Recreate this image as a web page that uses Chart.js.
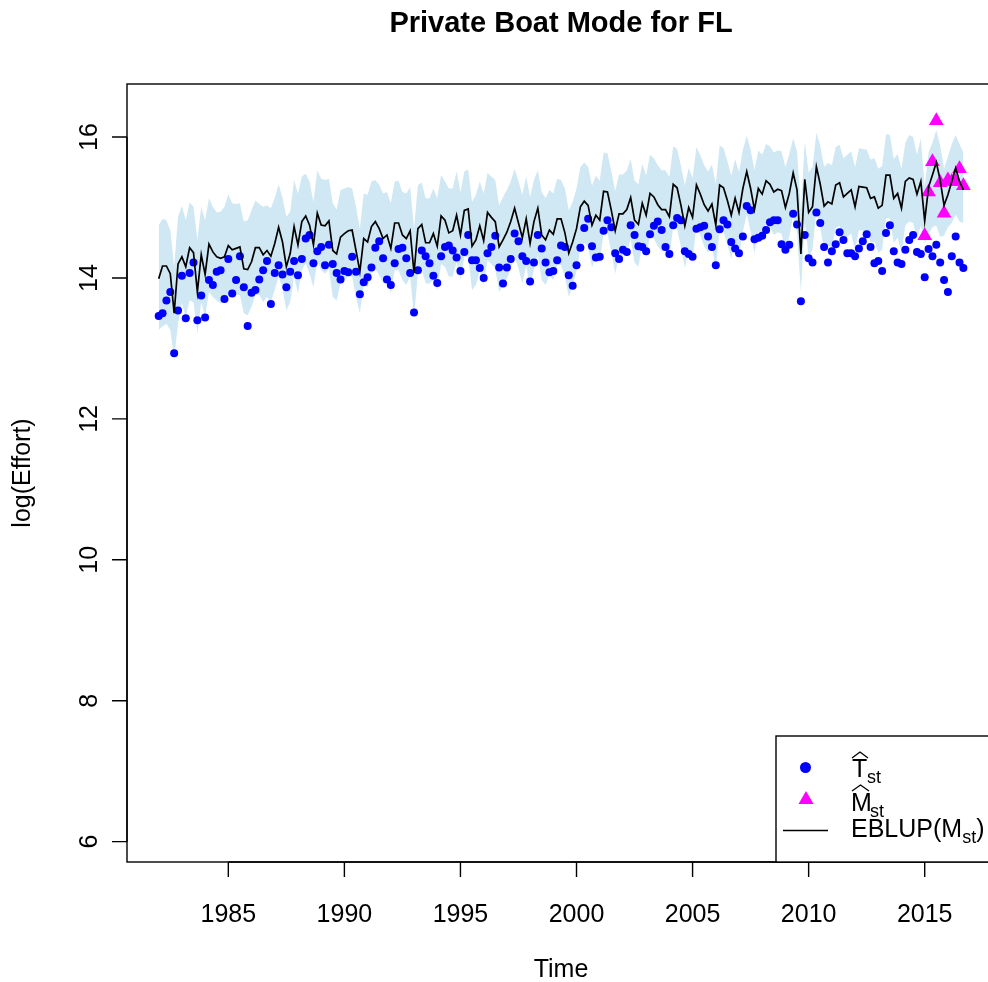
<!DOCTYPE html>
<html>
<head>
<meta charset="utf-8">
<script src="https://cdn.jsdelivr.net/npm/chart.js@4/dist/chart.umd.min.js"></script>
<style>
html,body{margin:0;padding:0;overflow:hidden;background:#fff;width:988px;height:982px;}
canvas{display:block;}
</style>
</head>
<body>
<canvas id="c" width="988" height="982" style="width:988px;height:982px"></canvas>
<script>
// ---- data (bimonthly waves, 1982 wave 1 .. 2016 wave 5) ----
const startYear = 1982;
const wavesPerYear = 6;
const xTicks = [1985, 1990, 1995, 2000, 2005, 2010, 2015];
const yTicks = [6, 8, 10, 12, 14, 16];

const tHat = [
13.46,13.50,13.68,13.80,12.93,13.54,14.03,13.43,14.07,14.22,13.40,13.75,13.44,13.97,13.90,14.09,14.11,13.70,14.27,13.78,
13.97,14.31,13.87,13.32,13.79,13.83,13.98,14.11,14.24,13.63,14.07,14.18,14.05,13.87,14.09,14.24,14.04,14.27,14.56,14.61,
14.21,14.38,14.44,14.18,14.47,14.20,14.07,13.98,14.10,14.08,14.30,14.09,13.77,13.94,14.01,14.15,14.43,14.52,14.28,13.98,
13.90,14.21,14.41,14.43,14.28,14.07,13.51,14.11,14.39,14.31,14.21,14.03,13.93,14.31,14.44,14.46,14.39,14.29,14.10,14.37,
14.61,14.25,14.25,14.14,14.00,14.35,14.44,14.60,14.15,13.92,14.15,14.27,14.63,14.52,14.31,14.24,13.95,14.22,14.61,14.42,
14.22,14.08,14.10,14.25,14.46,14.44,14.04,13.89,14.18,14.43,14.71,14.84,14.45,14.29,14.30,14.67,14.82,14.72,14.35,14.27,
14.40,14.37,14.75,14.61,14.45,14.44,14.38,14.62,14.74,14.80,14.68,14.44,14.34,14.75,14.85,14.82,14.38,14.34,14.30,14.70,
14.72,14.74,14.59,14.44,14.18,14.69,14.82,14.76,14.51,14.42,14.35,14.59,15.02,14.96,14.55,14.57,14.60,14.68,14.79,14.82,
14.82,14.48,14.40,14.47,14.91,14.76,13.67,14.61,14.28,14.22,14.93,14.78,14.44,14.22,14.38,14.48,14.65,14.54,14.35,14.35,
14.31,14.42,14.52,14.62,14.44,14.21,14.24,14.10,14.64,14.75,14.38,14.22,14.20,14.40,14.54,14.61,14.37,14.34,14.01,14.41,
14.31,14.47,14.22,13.97,13.80,14.31,14.59,14.22,14.14
];

const eblup = [
13.99,14.17,14.17,14.06,13.50,14.20,14.30,14.16,14.43,14.36,13.80,14.33,14.05,14.48,14.37,14.30,14.28,14.30,14.46,14.40,
14.42,14.44,14.13,14.12,14.23,14.43,14.43,14.33,14.39,14.31,14.49,14.72,14.51,14.16,14.35,14.73,14.47,14.80,14.88,14.75,
14.47,14.92,14.75,14.74,14.81,14.39,14.34,14.58,14.63,14.67,14.68,14.39,14.09,14.56,14.51,14.73,14.80,14.70,14.56,14.61,
14.42,14.78,14.78,14.61,14.56,14.67,14.07,14.70,14.76,14.50,14.50,14.63,14.45,14.88,14.82,14.64,14.67,14.89,14.61,14.96,
14.98,14.45,14.54,14.74,14.53,14.93,14.86,14.80,14.44,14.54,14.65,14.80,14.99,14.78,14.57,14.84,14.49,14.80,14.99,14.61,
14.54,14.68,14.62,14.84,14.84,14.64,14.35,14.51,14.70,15.01,15.09,15.03,14.75,14.89,14.82,15.23,15.22,14.96,14.67,14.91,
14.91,14.97,15.14,14.82,14.76,15.06,14.89,15.20,15.15,15.04,14.97,14.97,14.87,15.33,15.28,15.03,14.74,15.00,14.86,15.32,
15.19,15.04,14.95,15.05,14.75,15.32,15.28,15.10,14.89,15.13,14.93,15.27,15.51,15.27,14.97,15.27,15.19,15.38,15.33,15.22,
15.26,15.24,15.00,15.20,15.49,15.25,14.34,15.40,14.93,15.01,15.58,15.33,15.02,15.08,15.05,15.32,15.35,15.15,15.20,15.25,
15.01,15.30,15.29,15.28,15.13,15.15,14.99,15.03,15.46,15.46,15.13,15.20,14.99,15.37,15.42,15.40,15.19,15.37,14.81,15.29,
15.46,15.64,15.39,15.03,15.18,15.37,15.56,15.37,15.25
];

const bandUpper = [
14.75,14.84,14.82,14.68,14.16,14.87,15.02,14.82,15.07,15.01,14.54,15.01,14.82,15.13,15.01,14.93,14.94,15.01,15.19,15.06,
15.05,15.06,14.80,14.82,14.96,15.10,15.05,15.01,15.03,14.99,15.14,15.33,15.14,14.87,14.94,15.39,15.20,15.44,15.48,15.37,
15.08,15.53,15.41,15.39,15.41,15.06,14.97,15.25,15.27,15.29,15.27,15.01,14.70,15.20,15.18,15.37,15.39,15.32,15.20,15.22,
15.06,15.37,15.38,15.22,15.20,15.29,14.70,15.32,15.35,15.13,15.13,15.27,15.13,15.46,15.37,15.27,15.27,15.51,15.22,15.51,
15.54,15.08,15.18,15.37,15.20,15.49,15.44,15.39,15.03,15.15,15.25,15.37,15.55,15.37,15.18,15.44,15.15,15.39,15.53,15.22,
15.13,15.25,15.20,15.41,15.39,15.27,14.96,15.08,15.27,15.57,15.64,15.58,15.31,15.45,15.38,15.78,15.77,15.52,15.23,15.47,
15.47,15.53,15.69,15.38,15.33,15.62,15.45,15.75,15.70,15.60,15.53,15.53,15.43,15.87,15.83,15.59,15.31,15.56,15.42,15.86,
15.74,15.60,15.51,15.61,15.33,15.88,15.84,15.66,15.45,15.69,15.50,15.82,16.02,15.82,15.53,15.81,15.75,15.90,15.87,15.78,
15.81,15.80,15.57,15.76,15.98,15.80,14.95,15.93,15.50,15.57,16.06,15.88,15.58,15.63,15.60,15.86,15.89,15.70,15.75,15.80,
15.57,15.84,15.83,15.82,15.68,15.70,15.55,15.59,16.04,16.03,15.69,15.76,15.55,15.92,16.03,16.00,15.75,15.98,15.30,15.78,
15.92,16.10,15.88,15.55,15.72,15.90,16.03,15.90,15.78
];

const bandLower = [
13.26,13.31,13.35,13.26,12.86,13.35,13.64,13.45,13.68,13.66,13.21,13.66,13.45,13.80,13.73,13.68,13.64,13.66,13.78,13.73,
13.76,13.76,13.50,13.47,13.59,13.76,13.76,13.66,13.73,13.66,13.83,14.02,13.85,13.54,13.66,14.02,13.78,14.11,14.21,14.06,
13.87,14.25,14.11,14.06,14.13,13.73,13.68,13.92,13.97,14.02,14.02,13.73,13.50,13.92,13.87,14.06,14.13,14.04,13.92,13.97,
13.78,14.11,14.11,13.97,13.90,14.02,13.45,14.06,14.13,13.92,13.92,13.97,13.83,14.20,14.16,14.02,14.02,14.23,13.97,14.30,
14.30,13.83,13.90,14.09,13.90,14.25,14.20,14.13,13.80,13.90,13.99,14.13,14.32,14.13,13.92,14.18,13.85,14.13,14.32,13.97,
13.90,14.04,13.97,14.18,14.18,14.02,13.73,13.90,14.10,14.42,14.50,14.44,14.15,14.30,14.22,14.64,14.63,14.37,14.06,14.32,
14.32,14.38,14.55,14.22,14.16,14.47,14.29,14.61,14.56,14.45,14.38,14.38,14.27,14.75,14.70,14.44,14.14,14.41,14.26,14.74,
14.60,14.45,14.36,14.46,14.12,14.70,14.66,14.48,14.27,14.51,14.31,14.66,14.90,14.66,14.35,14.66,14.58,14.77,14.72,14.61,
14.65,14.63,14.38,14.59,14.88,14.64,13.80,14.80,14.31,14.40,14.97,14.72,14.40,14.46,14.43,14.71,14.74,14.53,14.58,14.63,
14.39,14.68,14.67,14.66,14.50,14.52,14.36,14.40,14.85,14.84,14.50,14.57,14.36,14.75,14.80,14.78,14.56,14.74,14.50,14.62,
14.72,14.75,14.58,14.60,14.72,14.78,14.90,14.80,14.78
];

// M-hat (direct survey estimates) for 2015 wave 1 .. 2016 wave 5
const mHatStartIndex = 198;
const mHat = [14.60,15.22,15.65,16.23,15.35,14.92,15.39,15.37,15.37,15.55,15.31];

// ---- build point lists ----
const timeOf = i => startYear + i / wavesPerYear;
const pts = arr => arr.map((v, i) => ({x: timeOf(i), y: v}));
const mPts = mHat.map((v, k) => ({x: timeOf(mHatStartIndex + k), y: v}));

const FONT = '"Liberation Sans", Arial, Helvetica, sans-serif';

function drawHat(ctx, x0, x1, yBase, h) {
  ctx.save();
  ctx.strokeStyle = '#000';
  ctx.lineWidth = 1.3;
  ctx.beginPath();
  ctx.moveTo(x0, yBase);
  ctx.lineTo((x0 + x1) / 2, yBase - h);
  ctx.lineTo(x1, yBase);
  ctx.stroke();
  ctx.restore();
}

const decor = {
  id: 'decor',
  afterDraw(chart) {
    const ctx = chart.ctx;
    const xs = chart.scales.x, ys = chart.scales.y;
    const ca = chart.chartArea;
    ctx.save();
    // plot box (right side lies just outside the picture)
    ctx.strokeStyle = '#000';
    ctx.lineWidth = 1.4;
    ctx.strokeRect(ca.left, ca.top, ca.right - ca.left + 8, ca.bottom - ca.top);

    // x axis
    ctx.fillStyle = '#000';
    ctx.font = '25px ' + FONT;
    ctx.textAlign = 'center';
    ctx.textBaseline = 'alphabetic';
    ctx.beginPath();
    ctx.moveTo(xs.getPixelForValue(xTicks[0]), ca.bottom);
    ctx.lineTo(xs.getPixelForValue(xTicks[xTicks.length - 1]), ca.bottom);
    xTicks.forEach(t => {
      const px = xs.getPixelForValue(t);
      ctx.moveTo(px, ca.bottom);
      ctx.lineTo(px, ca.bottom + 15);
    });
    ctx.stroke();
    xTicks.forEach(t => {
      ctx.fillText(String(t), xs.getPixelForValue(t), 922);
    });

    // y axis
    ctx.beginPath();
    ctx.moveTo(ca.left, ys.getPixelForValue(yTicks[0]));
    ctx.lineTo(ca.left, ys.getPixelForValue(yTicks[yTicks.length - 1]));
    yTicks.forEach(t => {
      const py = ys.getPixelForValue(t);
      ctx.moveTo(ca.left, py);
      ctx.lineTo(ca.left - 15, py);
    });
    ctx.stroke();
    yTicks.forEach(t => {
      const py = ys.getPixelForValue(t);
      ctx.save();
      ctx.translate(97, py);
      ctx.rotate(-Math.PI / 2);
      ctx.fillText(String(t), 0, 0);
      ctx.restore();
    });

    // axis titles
    const midX = 561;
    ctx.fillText('Time', midX, 977);
    ctx.save();
    ctx.translate(30, (ca.top + ca.bottom) / 2);
    ctx.rotate(-Math.PI / 2);
    ctx.fillText('log(Effort)', 0, 0);
    ctx.restore();

    // title
    ctx.font = 'bold 29px ' + FONT;
    ctx.fillText('Private Boat Mode for FL', midX, 32);

    // legend
    ctx.fillStyle = '#fff';
    ctx.fillRect(776, 736, 240, ca.bottom - 736);
    ctx.strokeStyle = '#000';
    ctx.lineWidth = 1.4;
    ctx.strokeRect(776, 736, 240, ca.bottom - 736);
    // dot
    ctx.fillStyle = '#0000FF';
    ctx.beginPath();
    ctx.arc(805.5, 767.5, 5.5, 0, Math.PI * 2);
    ctx.fill();
    // triangle
    ctx.fillStyle = '#FF00FF';
    ctx.beginPath();
    ctx.moveTo(806, 791);
    ctx.lineTo(813.5, 804);
    ctx.lineTo(798.5, 804);
    ctx.closePath();
    ctx.fill();
    // line
    ctx.strokeStyle = '#000';
    ctx.lineWidth = 1.6;
    ctx.beginPath();
    ctx.moveTo(783, 830.5);
    ctx.lineTo(828, 830.5);
    ctx.stroke();
    // labels
    ctx.fillStyle = '#000';
    ctx.textAlign = 'left';
    ctx.font = '25px ' + FONT;
    ctx.fillText('T', 852, 777);
    ctx.font = '18px ' + FONT;
    ctx.fillText('st', 867, 783);
    drawHat(ctx, 852, 868, 758, 6);
    ctx.font = '25px ' + FONT;
    ctx.fillText('M', 851, 811);
    ctx.font = '18px ' + FONT;
    ctx.fillText('st', 870, 817);
    drawHat(ctx, 852, 869, 791, 6);
    ctx.font = '25px ' + FONT;
    let xx = 851;
    ctx.fillText('EBLUP(M', xx, 837);
    xx += ctx.measureText('EBLUP(M').width;
    ctx.font = '18px ' + FONT;
    ctx.fillText('st', xx, 843);
    xx += ctx.measureText('st').width;
    ctx.font = '25px ' + FONT;
    ctx.fillText(')', xx, 837);
    ctx.restore();
  }
};

new Chart(document.getElementById('c'), {
  type: 'line',
  data: {
    datasets: [
      {label: 'upper', data: pts(bandUpper), borderWidth: 0, pointRadius: 0, fill: '+1',
       backgroundColor: '#CFE8F3', borderColor: 'rgba(0,0,0,0)', tension: 0, order: 5},
      {label: 'lower', data: pts(bandLower), borderWidth: 0, pointRadius: 0, fill: false,
       borderColor: 'rgba(0,0,0,0)', tension: 0, order: 4},
      {label: 'That', data: pts(tHat), showLine: false, pointRadius: 4, pointHoverRadius: 4,
       pointBackgroundColor: '#0000FF', pointBorderWidth: 0, borderColor: '#0000FF', order: 3},
      {label: 'Mhat', data: mPts, showLine: false, pointStyle: 'triangle', pointRadius: 8.5, pointHoverRadius: 8.5,
       pointBackgroundColor: '#FF00FF', pointBorderWidth: 0, borderColor: '#FF00FF', order: 2},
      {label: 'EBLUP', data: pts(eblup), borderColor: '#000', borderWidth: 1.7, pointRadius: 0,
       fill: false, tension: 0, order: 1}
    ]
  },
  options: {
    responsive: false,
    animation: false,
    devicePixelRatio: 1,
    layout: {autoPadding: false, padding: {left: 127, top: 84, right: 0, bottom: 120}},
    plugins: {legend: {display: false}, tooltip: {enabled: false}, title: {display: false}},
    events: [],
    scales: {
      x: {type: 'linear', min: 1980.635, max: 2017.727, display: false},
      y: {type: 'linear', min: 5.711, max: 16.753, display: false}
    }
  },
  plugins: [decor]
});
</script>
</body>
</html>
